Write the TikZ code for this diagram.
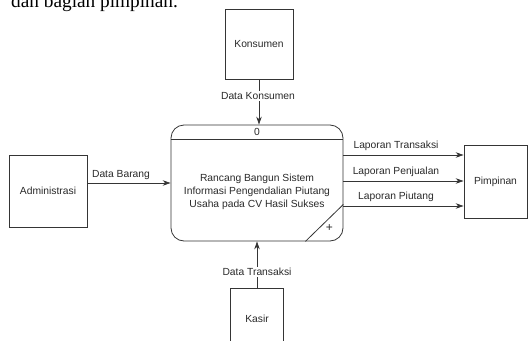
\documentclass[tikz,border=0pt]{standalone}
\usepackage{fontspec}
\setmainfont{Liberation Sans}
\newfontfamily\serifdoc{Liberation Serif}
\usetikzlibrary{arrows.meta}
\definecolor{linec}{HTML}{353535}
\definecolor{textc}{HTML}{2A2A2A}
\begin{document}
\begin{tikzpicture}[x=1pt,y=-1pt,
  every node/.style={text=textc,font=\fontsize{10.3}{13}\selectfont},
  entity/.style={draw=linec,line width=0.8pt,rectangle,inner sep=0pt},
  procbox/.style={draw=linec,line width=0.8pt,rectangle,rounded corners=13pt,inner sep=0pt,minimum width=172pt,minimum height=116pt},
  flow/.style={draw=linec,line width=0.8pt,-{Stealth[length=8pt,width=5.5pt]}},
  flowlabel/.style={fill=white,inner sep=1pt},
  toplabel/.style={inner sep=1pt,anchor=south}]
\useasboundingbox (0,0) rectangle (530,340);
\clip (0,0) rectangle (530,340);
\fill[white] (0,0) rectangle (530,340);
% cut-off line of document text
\node[anchor=base west,inner sep=0pt,font=\serifdoc\fontsize{19.3}{22}\selectfont,text=black] (doctext) at (11,8) {dan bagian pimpinan.};
% entities
\node[entity,minimum width=68pt,minimum height=70pt] (konsumen) at (259,44) {Konsumen};
\node[entity,minimum width=78pt,minimum height=72pt] (admin) at (48,191) {Administrasi};
\node[entity,minimum width=53pt,minimum height=62pt] (kasir) at (257,319) {Kasir};
\node[entity,minimum width=63pt,minimum height=73pt] (pimp) at (495.5,181.5) {Pimpinan};
% process
\node[procbox] (proc) at (257,183) {};
\node[align=center,inner sep=0pt] (proctext) at (257,191.5) {Rancang Bangun Sistem\\Informasi Pengendalian Piutang\\Usaha pada CV Hasil Sukses};
\node[inner sep=0pt] (procid) at (257,132) {0};
\draw[linec,line width=0.8pt] ([yshift=-15pt]proc.north west) -- ([yshift=-15pt]proc.north east);
\coordinate (cornerA) at ([xshift=-38pt]proc.south east);
\coordinate (cornerB) at ([yshift=37pt]proc.south east);
\draw[linec,line width=0.8pt] (cornerA) -- (cornerB);
\node[inner sep=0pt,font=\fontsize{12}{12}\selectfont] (plus) at (329.5,228) {+};
% flows in
\draw[flow] (konsumen.south) -- (konsumen.south |- proc.north);
\node[flowlabel] (lkons) at (258,96) {Data Konsumen};
\draw[flow] (proc.west -| admin.east) -- (proc.west);
\node[toplabel] (lbarang) at (121,181) {Data Barang};
\draw[flow] (kasir.north) -- (kasir.north |- proc.south);
\node[flowlabel] (ltrans) at (257,272) {Data Transaksi};
% flows out
\coordinate (r1) at ([yshift=28pt]proc.east);
\coordinate (r2) at ([yshift=2pt]proc.east);
\coordinate (r3) at ([yshift=-23pt]proc.east);
\draw[flow] (r1) -- (r1 -| pimp.west);
\draw[flow] (r2) -- (r2 -| pimp.west);
\draw[flow] (r3) -- (r3 -| pimp.west);
\node[toplabel] (lrep1) at (396,152) {Laporan Transaksi};
\node[toplabel] (lrep2) at (396,177.5) {Laporan Penjualan};
\node[toplabel] (lrep3) at (396,202.5) {Laporan Piutang};
\end{tikzpicture}
\end{document}
